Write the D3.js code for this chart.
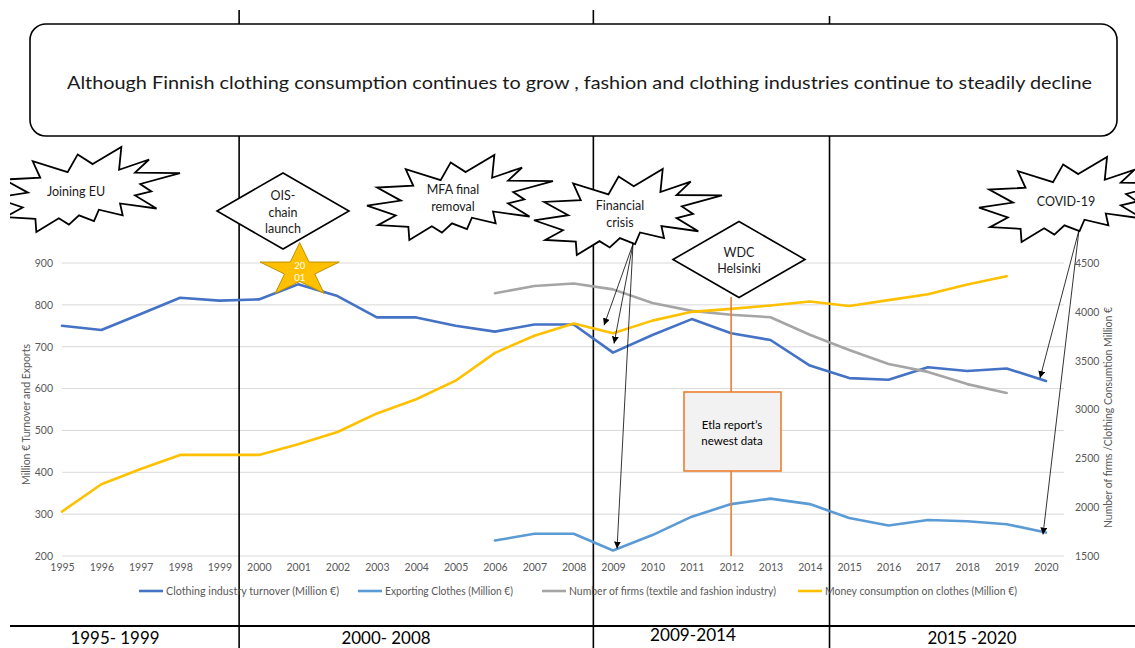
<!DOCTYPE html>
<html>
<head>
<meta charset="utf-8">
<script src="https://cdn.jsdelivr.net/npm/d3@7"></script>
<style>
  html, body { margin: 0; padding: 0; background: #fff; }
  svg { display: block; font-family: Lato, "Open Sans", "Noto Sans", sans-serif; }
</style>
</head>
<body>
<script>
// ---- data -------------------------------------------------------------
const years = [1995, 1996, 1997, 1998, 1999, 2000, 2001, 2002, 2003, 2004, 2005, 2006, 2007,
               2008, 2009, 2010, 2011, 2012, 2013, 2014, 2015, 2016, 2017, 2018, 2019, 2020];

// Clothing industry turnover (Million €) – left axis
const turnover = [750, 740, 778, 817, 810, 813, 849, 821, 770, 770, 750, 736, 753,
                  753, 686, 728, 766, 732, 716, 655, 625, 621, 651, 642, 648, 618];

// Exporting clothes (Million €) – left axis, from 2006
const exportsVal = [null, null, null, null, null, null, null, null, null, null, null, 237, 253,
                    253, 213, 250, 294, 324, 337, 324, 291, 273, 286, 283, 276, 256];

// Number of firms (textile and fashion industry) – right axis, 2006–2019
const firms = [null, null, null, null, null, null, null, null, null, null, null, 4190, 4265,
               4290, 4230, 4090, 4010, 3970, 3945, 3765, 3610, 3465, 3385, 3260, 3170, null];

// Money consumption on clothes (Million €) – right axis, 1995–2019
const consumption = [1955, 2235, 2390, 2535, 2535, 2535, 2645, 2770, 2960, 3105, 3295, 3580, 3755,
                     3880, 3780, 3910, 4000, 4030, 4065, 4105, 4060, 4120, 4180, 4280, 4365, null];

const leftTicks = [200, 300, 400, 500, 600, 700, 800, 900];
const rightTicks = [1500, 2000, 2500, 3000, 3500, 4000, 4500];

const seriesNames = ["Clothing industry turnover (Million €)", "Exporting Clothes (Million €)",
                     "Number of firms (textile and fashion industry)", "Money consumption on clothes (Million €)"];
const seriesColors = ["#4472C4", "#5B9BD5", "#A5A5A5", "#FFC000"];

const periodLabels = ["1995- 1999", "2000- 2008", "2009-2014", "2015 -2020"];
const periodBreaks = [1999.5, 2008.5, 2014.5];

const titleText = "Although Finnish clothing consumption continues to grow , fashion and clothing industries continue to steadily decline";

// ---- layout ------------------------------------------------------------
const W = 1135, H = 648;
const plot = { left: 62, right: 1064, top: 263, bottom: 556 };

const svg = d3.select("body").append("svg").attr("width", W).attr("height", H);
svg.append("defs").append("clipPath").attr("id", "page")
  .append("rect").attr("x", 10).attr("y", 0).attr("width", W - 10).attr("height", H);
svg.select("defs").append("marker")
  .attr("id", "arrow").attr("viewBox", "0 0 10 10").attr("refX", 10).attr("refY", 5)
  .attr("markerWidth", 7).attr("markerHeight", 7).attr("markerUnits", "userSpaceOnUse")
  .attr("orient", "auto")
  .append("path").attr("d", "M0,0 L10,5 L0,10 Z").attr("fill", "#000");

const root = svg.append("g").attr("clip-path", "url(#page)");

const step = (1046 - plot.left) / (years[years.length - 1] - years[0]);
const x = d3.scaleLinear()
  .domain([years[0], years[0] + (plot.right - plot.left) / step])
  .range([plot.left, plot.right]);
const yL = d3.scaleLinear().domain([200, 900]).range([plot.bottom, plot.top]);
const yR = d3.scaleLinear().domain([1500, 4500]).range([plot.bottom, plot.top]);

// gridlines (left axis)
root.append("g").selectAll("line").data(leftTicks).join("line")
  .attr("x1", plot.left).attr("x2", plot.right)
  .attr("y1", d => yL(d)).attr("y2", d => yL(d))
  .attr("stroke", "#D9D9D9").attr("stroke-width", 1);

// axes
const tickStyle = g => {
  g.select(".domain").remove();
  g.selectAll("text").attr("fill", "#595959").attr("font-size", 10.5)
    .attr("font-family", "Lato, sans-serif");
};
root.append("g").attr("transform", `translate(${plot.left - 4},0)`)
  .call(d3.axisLeft(yL).tickValues(leftTicks).tickFormat(d3.format("d")).tickSize(0).tickPadding(5))
  .call(tickStyle);
root.append("g").attr("transform", `translate(${plot.right + 6},0)`)
  .call(d3.axisRight(yR).tickValues(rightTicks).tickFormat(d3.format("d")).tickSize(0).tickPadding(5))
  .call(tickStyle);
const xAxis = root.append("g").attr("transform", `translate(0,${plot.bottom})`)
  .call(d3.axisBottom(x).tickValues(years).tickFormat(d3.format("d")).tickSize(0))
  .call(tickStyle);
xAxis.selectAll("text").attr("y", 15).attr("dy", 0);

// axis titles
root.append("text")
  .attr("transform", `translate(30,${(plot.top + plot.bottom) / 2 + 5}) rotate(-90)`)
  .attr("text-anchor", "middle").attr("font-size", 10.5).attr("fill", "#595959")
  .attr("textLength", 141).attr("lengthAdjust", "spacingAndGlyphs")
  .text("Million € Turnover and Exports");
root.append("text")
  .attr("transform", `translate(1112,${(plot.top + plot.bottom) / 2 + 8}) rotate(-90)`)
  .attr("text-anchor", "middle").attr("font-size", 10.5).attr("fill", "#595959")
  .attr("textLength", 221).attr("lengthAdjust", "spacingAndGlyphs")
  .text("Number of firms /Clothing Consumtion Million €");

// period separators
const sepTop = [10, 10, 16];
root.append("g").selectAll("line").data(periodBreaks).join("line")
  .attr("x1", d => x(d)).attr("x2", d => x(d))
  .attr("y1", (d, i) => sepTop[i]).attr("y2", H)
  .attr("stroke", "#000").attr("stroke-width", 1.6);

// series lines
const series = [
  { values: turnover, scale: yL },
  { values: exportsVal, scale: yL },
  { values: firms, scale: yR },
  { values: consumption, scale: yR }
];
series.forEach((s, i) => {
  const line = d3.line()
    .defined(d => d[1] != null)
    .x(d => x(d[0])).y(d => s.scale(d[1]));
  root.append("path")
    .datum(years.map((yr, k) => [yr, s.values[k]]))
    .attr("d", line)
    .attr("fill", "none").attr("stroke", seriesColors[i])
    .attr("stroke-width", 2.6).attr("stroke-linejoin", "round").attr("stroke-linecap", "round");
});

// legend
const legendX = [139, 358, 542, 798];
const legendTextW = [173, 128, 207, 192];
const legend = root.append("g").attr("transform", "translate(0,591)");
seriesNames.forEach((name, i) => {
  legend.append("line").attr("x1", legendX[i]).attr("x2", legendX[i] + 24)
    .attr("y1", 0).attr("y2", 0).attr("stroke", seriesColors[i]).attr("stroke-width", 2.6);
  legend.append("text").attr("x", legendX[i] + 27).attr("y", 4)
    .attr("font-size", 10.5).attr("fill", "#595959")
    .attr("textLength", legendTextW[i]).attr("lengthAdjust", "spacingAndGlyphs")
    .text(name);
});

// WDC Helsinki marker line and Etla box
const x2012 = x(2012);
root.append("line").attr("x1", x2012).attr("x2", x2012).attr("y1", 297).attr("y2", plot.bottom)
  .attr("stroke", "#ED7D31").attr("stroke-width", 1.6);
root.append("rect").attr("x", 684).attr("y", 392).attr("width", 97).attr("height", 79)
  .attr("fill", "#F2F2F2").attr("stroke", "#ED7D31").attr("stroke-width", 1.6);
root.append("text").attr("x", 732).attr("y", 424).attr("text-anchor", "middle")
  .attr("dominant-baseline", "central").attr("font-size", 11.5).attr("fill", "#000")
  .text("Etla report’s");
root.append("text").attr("x", 732).attr("y", 440).attr("text-anchor", "middle")
  .attr("dominant-baseline", "central").attr("font-size", 11.5).attr("fill", "#000")
  .text("newest data");

// explosion call-out outline (21600 unit grid)
const SEAL2 = [[11462, 4342], [14790, 0], [14525, 5777], [18007, 3172], [16380, 6532], [21600, 6645],
  [16985, 9402], [18270, 11290], [16380, 12310], [18877, 15632], [14640, 14350], [14942, 17370],
  [12180, 15935], [11612, 18842], [9872, 17370], [8700, 19712], [7527, 18125], [4917, 21600],
  [4805, 18240], [1285, 17825], [3330, 15370], [0, 12877], [3935, 11592], [1172, 8270],
  [5372, 7817], [4502, 3625], [8550, 6382], [9722, 1887]];
function sealPath(x0, y0, w, h) {
  return "M" + SEAL2.map(([px, py]) => `${x0 + px / 21600 * w},${y0 + py / 21600 * h}`).join("L") + "Z";
}
function addLabel(lines, cx, ys, size) {
  lines.forEach((t, i) => {
    root.append("text").attr("x", cx).attr("y", ys[i]).attr("text-anchor", "middle")
      .attr("dominant-baseline", "central").attr("font-size", size).attr("fill", "#1a1a1a").text(t);
  });
}
const explosions = [
  { box: [-6, 147, 186, 85], lines: ["Joining EU"], cx: 76, ys: [191] },
  { box: [367, 155, 186, 85], lines: ["MFA final", "removal"], cx: 453, ys: [189, 206] },
  { box: [534, 169, 188, 86], lines: ["Financial", "crisis"], cx: 620, ys: [205, 222] },
  { box: [979, 157, 187, 85], lines: ["COVID-19"], cx: 1066, ys: [201] }
];
explosions.forEach(e => {
  root.append("path").attr("d", sealPath(...e.box))
    .attr("fill", "#fff").attr("stroke", "#000").attr("stroke-width", 1.8).attr("stroke-linejoin", "miter");
  addLabel(e.lines, e.cx, e.ys, 12.5);
});

// diamonds
const diamonds = [
  { cx: 283, cy: 211, hw: 66, hh: 38, lines: ["OIS-", "chain", "launch"], ys: [195, 212, 228] },
  { cx: 739, cy: 259.5, hw: 66, hh: 38, lines: ["WDC", "Helsinki"], ys: [252, 268] }
];
diamonds.forEach(d => {
  root.append("path")
    .attr("d", `M${d.cx - d.hw},${d.cy}L${d.cx},${d.cy - d.hh}L${d.cx + d.hw},${d.cy}L${d.cx},${d.cy + d.hh}Z`)
    .attr("fill", "#fff").attr("stroke", "#000").attr("stroke-width", 1.6);
  addLabel(d.lines, d.cx, d.ys, 12.5);
});

// star on the 2001 turnover peak
const starCx = x(2001) + 1.5, starCy = 270.7, starRx = 41.6, starRy = 28;
const starPts = d3.range(10).map(k => {
  const a = -Math.PI / 2 + k * Math.PI / 5;
  const r = k % 2 === 0 ? 1 : 0.382;
  return [starCx + Math.cos(a) * starRx * r, starCy + Math.sin(a) * starRy * r];
});
root.append("path").attr("d", "M" + starPts.join("L") + "Z")
  .attr("fill", "#FFC000").attr("stroke", "#BF9000").attr("stroke-width", 1);
root.append("text").attr("x", starCx).attr("y", 265).attr("text-anchor", "middle")
  .attr("dominant-baseline", "central").attr("font-size", 9.5).attr("fill", "#fff").text("20");
root.append("text").attr("x", starCx).attr("y", 277).attr("text-anchor", "middle")
  .attr("dominant-baseline", "central").attr("font-size", 9.5).attr("fill", "#fff").text("01");

// call-out arrows
const i2009 = years.indexOf(2009), i2020 = years.indexOf(2020);
const arrows = [
  { from: [633, 244], to: [x(2009) - 9, yR(consumption[i2009]) - 8] },
  { from: [633, 244], to: [x(2009) + 1, yL(turnover[i2009]) - 9] },
  { from: [633, 244], to: [x(2009) + 4, yL(exportsVal[i2009]) - 2] },
  { from: [1079, 230], to: [x(2020) - 6, yL(turnover[i2020]) - 3] },
  { from: [1079, 230], to: [x(2020) - 3, yL(exportsVal[i2020]) + 2] }
];
root.append("g").selectAll("line").data(arrows).join("line")
  .attr("x1", d => d.from[0]).attr("y1", d => d.from[1])
  .attr("x2", d => d.to[0]).attr("y2", d => d.to[1])
  .attr("stroke", "#000").attr("stroke-width", 0.8).attr("marker-end", "url(#arrow)");

// title box
root.append("rect").attr("x", 30).attr("y", 24).attr("width", 1087).attr("height", 112)
  .attr("rx", 16).attr("ry", 16)
  .attr("fill", "#fff").attr("stroke", "#000").attr("stroke-width", 1.6);
root.append("text").attr("x", 579.5).attr("y", 82).attr("text-anchor", "middle")
  .attr("dominant-baseline", "central").attr("font-size", 17.5).attr("fill", "#1a1a1a")
  .attr("textLength", 1025).attr("lengthAdjust", "spacingAndGlyphs")
  .text(titleText);

// period band
root.append("line").attr("x1", 10).attr("x2", W).attr("y1", 626).attr("y2", 626)
  .attr("stroke", "#000").attr("stroke-width", 2);
const periodCx = [115, 386, 693, 972];
const periodY = [637, 637, 634, 637];
const periodW = [89, 89, 86, 89];
periodLabels.forEach((t, i) => {
  root.append("text").attr("x", periodCx[i]).attr("y", periodY[i]).attr("text-anchor", "middle")
    .attr("dominant-baseline", "central").attr("font-size", 18).attr("fill", "#000")
    .attr("textLength", periodW[i]).attr("lengthAdjust", "spacingAndGlyphs")
    .text(t);
});
</script>
</body>
</html>
